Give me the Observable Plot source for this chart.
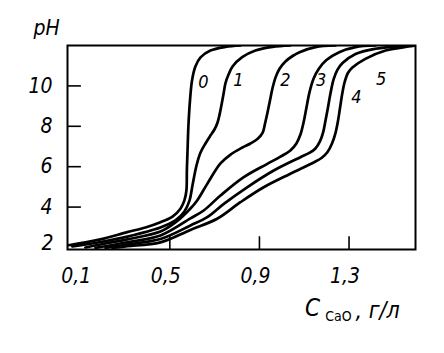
<!DOCTYPE html>
<html>
<head>
<meta charset="utf-8">
<script src="https://cdn.jsdelivr.net/npm/d3@7"></script>
<script src="https://cdn.jsdelivr.net/npm/@observablehq/plot@0.6"></script>
<style>
  html, body { margin: 0; padding: 0; background: #fff; }
  svg { display: block; }
</style>
</head>
<body>
<script>
// Series names (curve numbers)
const seriesNames = ["0", "1", "2", "3", "4", "5"];

// C_CaO, g/l  and pH values
const c0x = [0.042, 0.190, 0.310, 0.391, 0.458, 0.512, 0.548, 0.565, 0.574, 0.576, 0.579, 0.583, 0.590, 0.599, 0.614, 0.637, 0.681, 0.748, 0.815];
const c0y = [2.10, 2.40, 2.76, 2.99, 3.25, 3.53, 3.93, 4.33, 4.82, 5.81, 6.80, 8.04, 9.28, 10.27, 10.96, 11.41, 11.75, 11.93, 12.00];

const c1x = [0.065, 0.190, 0.310, 0.458, 0.525, 0.565, 0.588, 0.601, 0.619, 0.637, 0.659, 0.681, 0.699, 0.713, 0.722, 0.731, 0.740, 0.748, 0.762, 0.780, 0.823, 0.882, 0.958, 1.038];
const c1y = [2.05, 2.27, 2.54, 2.99, 3.34, 3.78, 4.33, 5.07, 6.06, 6.70, 7.15, 7.54, 7.84, 8.19, 8.58, 9.08, 9.62, 10.12, 10.56, 10.96, 11.42, 11.75, 11.93, 12.00];

const c2x = [0.123, 0.190, 0.310, 0.458, 0.525, 0.592, 0.622, 0.667, 0.726, 0.771, 0.824, 0.860, 0.891, 0.914, 0.925, 0.936, 0.947, 0.958, 0.972, 0.989, 1.016, 1.048, 1.079, 1.150, 1.240];
const c2y = [2.00, 2.15, 2.40, 2.79, 3.24, 3.93, 4.33, 5.15, 6.16, 6.60, 6.95, 7.15, 7.37, 7.67, 8.14, 8.68, 9.28, 9.87, 10.42, 10.84, 11.21, 11.48, 11.67, 11.92, 12.00];

const c3x = [0.168, 0.310, 0.458, 0.592, 0.651, 0.726, 0.830, 0.935, 0.994, 1.038, 1.065, 1.083, 1.097, 1.110, 1.123, 1.142, 1.166, 1.199, 1.256, 1.329, 1.418];
const c3y = [1.98, 2.26, 2.59, 3.44, 3.83, 4.57, 5.48, 6.14, 6.50, 6.80, 7.15, 7.59, 8.19, 8.93, 9.67, 10.37, 10.86, 11.28, 11.67, 11.92, 12.00];

const c4x = [0.213, 0.310, 0.458, 0.592, 0.667, 0.741, 0.845, 0.964, 1.083, 1.123, 1.150, 1.170, 1.184, 1.195, 1.206, 1.217, 1.231, 1.248, 1.271, 1.329, 1.418, 1.507, 1.574];
const c4y = [1.98, 2.15, 2.42, 3.09, 3.50, 4.16, 4.98, 5.81, 6.47, 6.68, 6.90, 7.25, 7.69, 8.29, 8.93, 9.62, 10.32, 10.79, 11.13, 11.58, 11.84, 11.95, 12.00];

const c5x = [0.244, 0.310, 0.458, 0.592, 0.711, 0.815, 0.919, 1.038, 1.142, 1.177, 1.204, 1.224, 1.240, 1.251, 1.260, 1.269, 1.280, 1.295, 1.315, 1.373, 1.463, 1.565, 1.592];
const c5y = [1.98, 2.06, 2.25, 2.87, 3.42, 4.24, 4.98, 5.65, 6.21, 6.43, 6.73, 7.15, 7.69, 8.29, 8.93, 9.57, 10.17, 10.64, 10.91, 11.34, 11.75, 11.95, 11.99];

// Curve label anchors (data units)
const labelX = [0.650, 0.806, 1.016, 1.175, 1.333, 1.443];
const labelY = [10.17, 10.27, 10.27, 10.27, 9.43, 10.32];

// Tick values
const xTicks = [0.1, 0.5, 0.9, 1.3];
const xTickMarks = [0.5, 0.9, 1.3];
const yTicks = [4, 6, 8, 10];
const yTickLabels = [2, 4, 6, 8, 10];

const xs = [c0x, c1x, c2x, c3x, c4x, c5x];
const ys = [c0y, c1y, c2y, c3y, c4y, c5y];
const rows = [];
seriesNames.forEach((s, i) => xs[i].forEach((x, j) => rows.push({curve: s, c: x, pH: ys[i][j]})));
const labels = seriesNames.map((s, i) => ({curve: s, c: labelX[i], pH: labelY[i]}));

const X0 = 0.0431, X1 = 1.5967, Y0 = 1.9, Y1 = 12;
const FONT = "'DejaVu Sans Condensed', 'DejaVu Sans', sans-serif";
const fmt = d => String(d).replace(".", ",");
const T = {fill: "#000", lineAnchor: "middle"};

const chart = Plot.plot({
  width: 444,
  height: 353,
  marginLeft: 67,
  marginRight: 29,
  marginTop: 45,
  marginBottom: 104,
  style: {background: "#fff", color: "#000", fontFamily: FONT},
  x: {domain: [X0, X1], axis: null},
  y: {domain: [Y0, Y1], axis: null},
  marks: [
    Plot.frame({stroke: "#000", strokeWidth: 2}),
    Plot.ruleX(xTickMarks, {x: d => d, y1: Y0, y2: Y0 + 0.63, stroke: "#000", strokeWidth: 1.6}),
    Plot.ruleY(yTicks, {y: d => d, x1: X0, x2: X0 + 0.062, stroke: "#000", strokeWidth: 1.6}),
    Plot.line(rows, {x: "c", y: "pH", z: "curve", curve: "catmull-rom", stroke: "#000", strokeWidth: 2.7, clip: true}),
    Plot.text(labels, {x: "c", y: "pH", text: "curve", fontSize: 18, fontStyle: "italic", ...T}),
    Plot.text(xTicks, {x: d => d, y: Y0, text: fmt, dy: 27, dx: -4, fontSize: 21, fontStyle: "italic", ...T}),
    Plot.text(yTickLabels.filter(d => d !== 2), {x: X0, y: d => d, text: String, textAnchor: "end", dx: -15, fontSize: 21, fontStyle: "italic", ...T}),
    Plot.text(yTickLabels.filter(d => d === 2), {x: X0, y: d => d, text: String, textAnchor: "end", dx: -14, dy: -4, fontSize: 21, fontStyle: "italic", ...T}),
    Plot.text(["pH"], {frameAnchor: "top-left", text: d => d, dx: -21, dy: -17, textAnchor: "middle", fontSize: 21, fontStyle: "italic", ...T}),
    Plot.text(["C"], {frameAnchor: "bottom", text: d => d, dx: 71, dy: 59, fontSize: 24, fontStyle: "italic", ...T}),
    Plot.text(["CaO"], {frameAnchor: "bottom", text: d => d, dx: 97, dy: 67, fontSize: 14, ...T}),
    Plot.text([", г/л"], {frameAnchor: "bottom", text: d => d, dx: 114, dy: 61, textAnchor: "start", fontSize: 23, fontStyle: "italic", ...T})
  ]
});
document.body.appendChild(chart);
</script>
</body>
</html>
